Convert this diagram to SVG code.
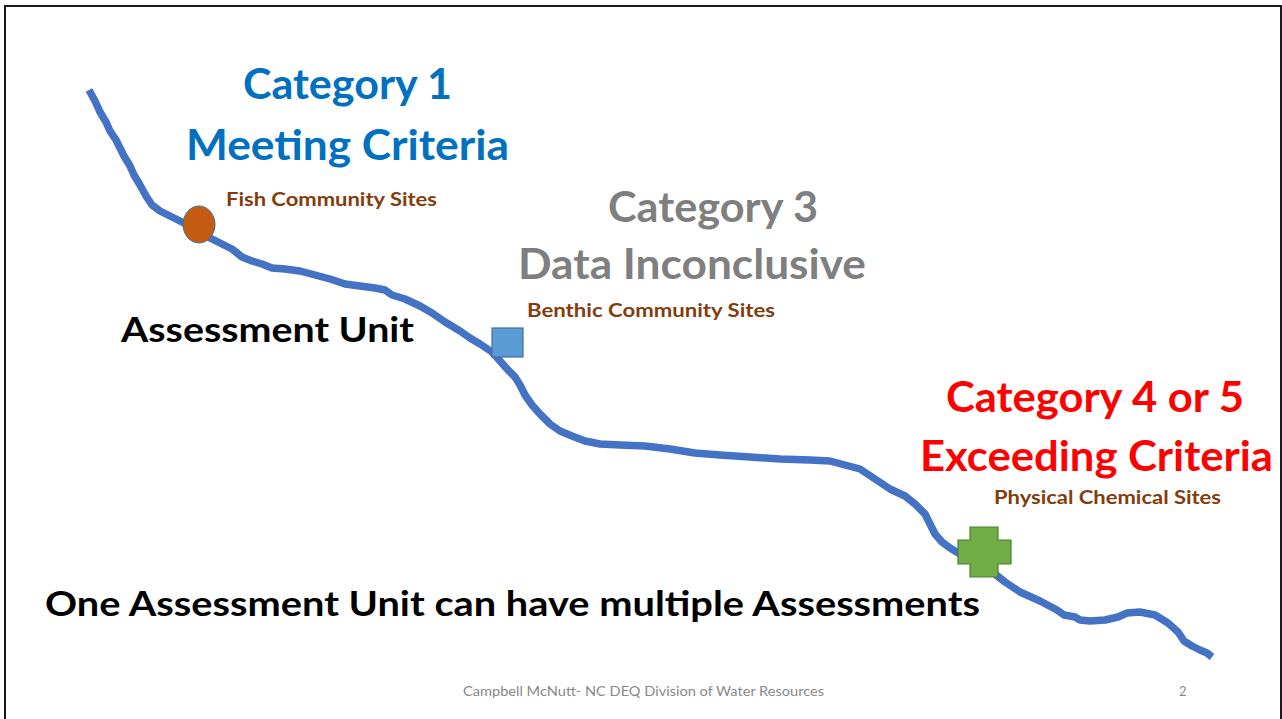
<svg xmlns="http://www.w3.org/2000/svg" width="1282" height="719" viewBox="0 0 1282 719">
<style>
text{font-family:Lato,"Open Sans","Liberation Sans",sans-serif;font-weight:700}
.t40{font-size:42px}
.site{font-size:19.5px;fill:#843C0C}
.big{font-size:34px;fill:#000}
.foot{font-size:13px;fill:#898989;font-weight:400}
.river{fill:none;stroke:#4472C4;stroke-width:7.5;stroke-linejoin:round;stroke-linecap:butt}
</style>
<rect width="1282" height="719" fill="#fff"/>
<path d="M5,719 V6 H1281 V719" fill="none" stroke="#1a1a1a" stroke-width="2"/>
<g id="connectors">
<polyline class="river" points="89,90 95,101 100,112 106,122 110,131 116,140 120,148 124,156 130,166 134,175 140,185 146,196 152,205 160,211 170,216 180,221 190,226 200,232 210,238 220,243 232,249 242,257 252,261 262,264 272,268 285,269 300,271 315,275 330,279 345,284 360,286 375,288 385,290 392,295 405,299 420,306 432,313 445,322 460,331 470,338 480,344 492,352 500,361 508,370 515,377 520,385 525,395 532,405 540,414 550,424 560,431 572,436 585,441 600,444 620,445 645,446 670,449 695,453 720,455 750,457 780,459 810,460 830,461 845,465 860,469 875,479 890,489 905,496 915,504 925,514 930,524 935,534 942,542 950,548 960,554 975,561 990,570 1005,582 1020,592 1040,601 1057,610 1064,615 1075,617 1080,620 1090,621 1105,620 1118,617 1127,613 1140,612 1155,615 1168,623 1178,632 1184,641 1192,646 1200,650 1207,653 1212,657"/>
</g>
<g id="fish-site">
<ellipse cx="199" cy="224.5" rx="16" ry="18.5" fill="#C55A11" stroke="#41719C" stroke-width="1"/>
</g>
<g id="benthic-site">
<rect x="492" y="328" width="31" height="29" fill="#5B9BD5" stroke="#41719C" stroke-width="1.2"/>
</g>
<g id="physchem-site">
<path d="M970,527 H998 V540 H1011 V564 H998 V577 H970 V564 H958 V540 H970 Z" fill="#70AD47" stroke="#507E32" stroke-width="1.2"/>
</g>
<g id="cat1">
<text class="t40" x="243" y="99" fill="#0070C0" textLength="209" lengthAdjust="spacingAndGlyphs">Category 1</text>
<text class="t40" x="186" y="160" fill="#0070C0" textLength="323" lengthAdjust="spacingAndGlyphs">Meeting Criteria</text>
<text class="site" x="226" y="206" textLength="211" lengthAdjust="spacingAndGlyphs">Fish Community Sites</text>
</g>
<g id="cat3">
<text class="t40" x="608" y="222" fill="#7F7F7F" textLength="210" lengthAdjust="spacingAndGlyphs">Category 3</text>
<text class="t40" x="518" y="279" fill="#7F7F7F" textLength="348" lengthAdjust="spacingAndGlyphs">Data Inconclusive</text>
<text class="site" x="527" y="317" textLength="248" lengthAdjust="spacingAndGlyphs">Benthic Community Sites</text>
</g>
<g id="assessment-unit">
<text class="big" x="121" y="342" textLength="293" lengthAdjust="spacingAndGlyphs">Assessment Unit</text>
</g>
<g id="cat45">
<text class="t40" x="946" y="412" fill="#FF0000" textLength="298" lengthAdjust="spacingAndGlyphs">Category 4 or 5</text>
<text class="t40" x="920" y="470.5" fill="#FF0000" textLength="353" lengthAdjust="spacingAndGlyphs">Exceeding Criteria</text>
<text class="site" x="994" y="504" textLength="227" lengthAdjust="spacingAndGlyphs">Physical Chemical Sites</text>
</g>
<g id="note">
<text class="big" x="45" y="616" textLength="935" lengthAdjust="spacingAndGlyphs">One Assessment Unit can have multiple Assessments</text>
</g>
<g id="footer">
<text class="foot" x="463" y="696" textLength="361" lengthAdjust="spacingAndGlyphs">Campbell McNutt- NC DEQ Division of Water Resources</text>
<text class="foot" x="1179" y="696">2</text>
</g>
</svg>
